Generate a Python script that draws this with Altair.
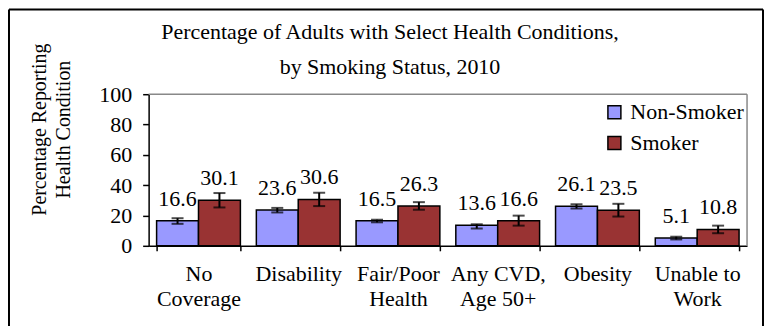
import altair as alt
import pandas as pd

# ---- data ----
categories = ["No|Coverage", "Disability", "Fair/Poor|Health", "Any CVD,|Age 50+", "Obesity", "Unable to|Work"]
series = ["Non-Smoker", "Smoker"]
non_smoker = [16.6, 23.6, 16.5, 13.6, 26.1, 5.1]
smoker = [30.1, 30.6, 26.3, 16.6, 23.5, 10.8]
non_smoker_lo = [14.5, 22.0, 15.5, 11.4, 24.6, 4.2]
non_smoker_hi = [18.2, 25.0, 17.2, 14.2, 27.4, 6.0]
smoker_lo = [25.3, 26.2, 23.8, 13.3, 19.3, 8.3]
smoker_hi = [34.8, 35.0, 28.8, 19.9, 27.7, 13.3]
y_ticks = [0, 20, 40, 60, 80, 100]
colors = ["#9999FF", "#993333"]

rows = []
for i, c in enumerate(categories):
    rows.append(dict(cat=c, series=series[0], value=non_smoker[i], lo=non_smoker_lo[i],
                     hi=non_smoker_hi[i], label=f"{non_smoker[i]:.1f}"))
    rows.append(dict(cat=c, series=series[1], value=smoker[i], lo=smoker_lo[i],
                     hi=smoker_hi[i], label=f"{smoker[i]:.1f}"))
df = pd.DataFrame(rows)

FONT = "Liberation Serif"

x_enc = alt.X(
    "cat:N", sort=categories,
    scale=alt.Scale(paddingInner=0.16, paddingOuter=0.08),
    axis=alt.Axis(
        title=None, labelExpr="split(datum.label, '|')", tickBand="extent",
        labelAngle=0, labelFontSize=22, labelFont=FONT, labelColor="black",
        labelLineHeight=25, labelPadding=13, tickSize=5, tickColor="black",
        tickWidth=1.5, domainColor="black", domainWidth=1.5,
        labelOverlap=False, labelLimit=0,
    ),
)
xoff = alt.XOffset("series:N", sort=series)
y_scale = alt.Scale(domain=[0, 100], nice=False)

y_axis = alt.Axis(
    values=y_ticks, title=["Percentage Reporting", "Health Condition"],
    titleFont=FONT, titleFontSize=20, titleFontWeight="normal", titleColor="black",
    titleAngle=270, titleX=-119, titleY=35, titleBaseline="top", titleAlign="center",
    titleLineHeight=24, labelFontSize=22, labelFont=FONT, labelColor="black",
    labelPadding=11, tickSize=6, tickColor="black", tickWidth=1.5,
    domainColor="black", domainWidth=1.5, grid=False,
    labelOverlap=False, labelFlush=False, labelBound=False,
)

base = alt.Chart(df).encode(x=x_enc, xOffset=xoff)

bars = base.mark_bar(stroke="black", strokeWidth=1.5).encode(
    y=alt.Y("value:Q", scale=y_scale, axis=y_axis),
    color=alt.Color(
        "series:N", scale=alt.Scale(domain=series, range=colors),
        legend=alt.Legend(
            title=None, orient="none", legendX=456, legendY=7, symbolType="square",
            symbolSize=169, symbolStrokeColor="black", symbolStrokeWidth=1.5,
            labelFontSize=22, labelFont=FONT, labelColor="black", labelOffset=5,
            rowPadding=9, padding=0,
        ),
    ),
)

err = base.mark_rule(color="black", strokeWidth=2).encode(
    y=alt.Y("lo:Q", scale=y_scale, axis=y_axis), y2="hi:Q"
)
cap_lo = base.mark_tick(color="black", thickness=2, size=12).encode(
    y=alt.Y("lo:Q", scale=y_scale, axis=y_axis))
cap_hi = base.mark_tick(color="black", thickness=2, size=12).encode(
    y=alt.Y("hi:Q", scale=y_scale, axis=y_axis))

labels = base.mark_text(dy=-15, baseline="alphabetic", fontSize=22, font=FONT, color="black").encode(
    y=alt.Y("value:Q", scale=y_scale, axis=y_axis), text="label:N"
)

# plot-area border (gray top and right, as in the original)
border_df = pd.DataFrame({"top": [y_ticks[-1]], "bottom": [y_ticks[0]]})
border_top = alt.Chart(border_df).mark_rule(color="#888888", strokeWidth=1.5).encode(
    x=alt.value(0), x2=alt.value(600), y=alt.Y("top:Q", scale=y_scale, axis=y_axis))
border_right = alt.Chart(border_df).mark_rule(color="#888888", strokeWidth=1.5).encode(
    x=alt.value(600), y=alt.Y("bottom:Q", scale=y_scale, axis=y_axis), y2="top:Q")

frame_df = pd.DataFrame({"k": [0]})
frame_left = alt.Chart(frame_df).mark_rule(color="black", strokeWidth=2).encode(
    x=alt.value(-140), y=alt.value(-85), y2=alt.value(240))
frame_right = alt.Chart(frame_df).mark_rule(color="black", strokeWidth=2).encode(
    x=alt.value(616), y=alt.value(-85), y2=alt.value(240))
frame_top = alt.Chart(frame_df).mark_rule(color="black", strokeWidth=2).encode(
    x=alt.value(-140), x2=alt.value(616), y=alt.value(-85))

chart = alt.layer(
    bars, err, cap_lo, cap_hi, labels, border_top, border_right,
    frame_left, frame_right, frame_top,
).properties(
    width=600, height=152, padding=0, background="white",
    title=alt.TitleParams(
        ["Percentage of Adults with Select Health Conditions,", "by Smoking Status, 2010"],
        font=FONT, fontSize=22, fontWeight="normal", color="black", lineHeight=35,
        offset=-71, dx=4, anchor="middle", frame="bounds",
    ),
).configure_view(stroke=None)

chart.save("out.html", embed_options={"renderer": "svg", "actions": False})
